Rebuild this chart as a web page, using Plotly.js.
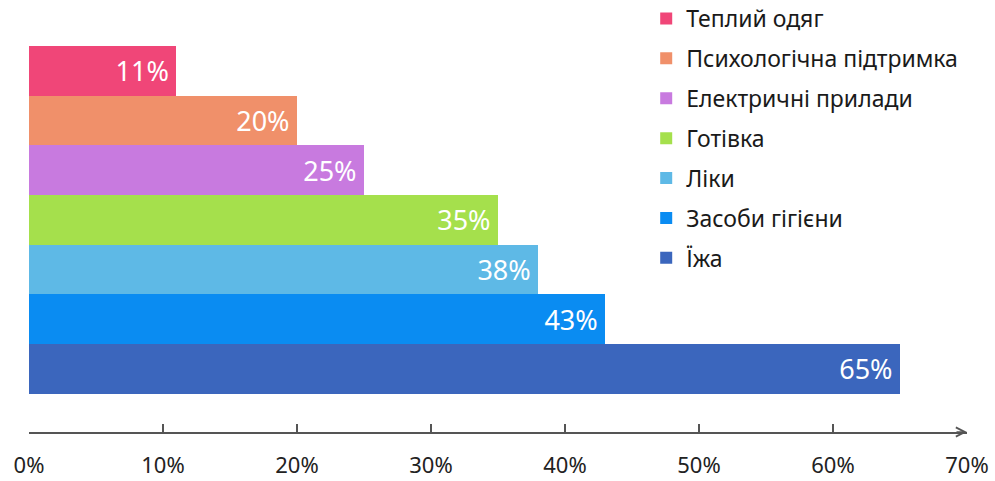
<!DOCTYPE html>
<html>
<head>
<meta charset="utf-8">
<script src="https://cdn.plot.ly/plotly-3.0.1.min.js"></script>
<style>html,body{margin:0;padding:0;background:#fff;}#chart{width:995px;height:481px;}</style>
</head>
<body>
<div id="chart"></div>
<script>
// Data (top to bottom order as shown)
const categories = ["Теплий одяг", "Психологічна підтримка", "Електричні прилади", "Готівка", "Ліки", "Засоби гігієни", "Їжа"];
const values = [11, 20, 25, 35, 38, 43, 65];
const valueLabels = ["11%", "20%", "25%", "35%", "38%", "43%", "65%"];
const colors = ["#F04678", "#F0906A", "#C87ADF", "#A5E04C", "#5EB9E6", "#0A8CF2", "#3B66BD"];
const tickValues = [0, 10, 20, 30, 40, 50, 60, 70];
const tickLabels = ["0%", "10%", "20%", "30%", "40%", "50%", "60%", "70%"];

const FONT = "Noto Sans, Open Sans, sans-serif";

const traces = categories.map((c, i) => ({
  type: "bar",
  orientation: "h",
  name: c,
  legendgroup: "g" + i,
  y: [c],
  x: [values[i]],
  text: [valueLabels[i]],
  texttemplate: "%{text}\u2009",
  textposition: "inside",
  insidetextanchor: "end",
  textfont: {color: "#ffffff", size: 27, family: FONT},
  marker: {color: colors[i], line: {width: 0}},
  hoverinfo: "skip"
}));

const layout = {
  width: 995,
  height: 481,
  margin: {l: 29, r: 28, t: 46, b: 49, autoexpand: false},
  paper_bgcolor: "#ffffff",
  plot_bgcolor: "#ffffff",
  barmode: "overlay",
  bargap: 0,
  showlegend: true,
  legend: {
    x: 0.658, xanchor: "left",
    y: 1.127, yanchor: "top",
    maxheight: 470,
    font: {family: FONT, size: 23, color: "#1a1a1a"},
    tracegroupgap: 7,
    itemclick: false
  },
  xaxis: {
    range: [0, 70],
    tickvals: tickValues,
    ticktext: tickLabels,
    ticks: "inside",
    ticklen: 8,
    tickcolor: "#555555",
    tickwidth: 1.2,
    showline: true,
    linecolor: "#555555",
    linewidth: 1.5,
    showgrid: false,
    zeroline: false,
    ticklabelstandoff: 13,
    tickfont: {family: FONT, size: 22, color: "#222222"},
    fixedrange: true
  },
  yaxis: {
    visible: false,
    type: "category",
    categoryorder: "array",
    categoryarray: categories.slice().reverse(),
    range: [-1.27, 6.5],
    fixedrange: true
  },
  annotations: [{
    xref: "x", yref: "paper",
    x: 70, y: 0,
    ax: -12, ay: 0,
    text: "",
    showarrow: true,
    arrowhead: 5,
    arrowsize: 1.2,
    arrowwidth: 1.5,
    arrowcolor: "#555555"
  }]
};

Plotly.newPlot("chart", traces, layout, {displayModeBar: false, staticPlot: true});
</script>
</body>
</html>
